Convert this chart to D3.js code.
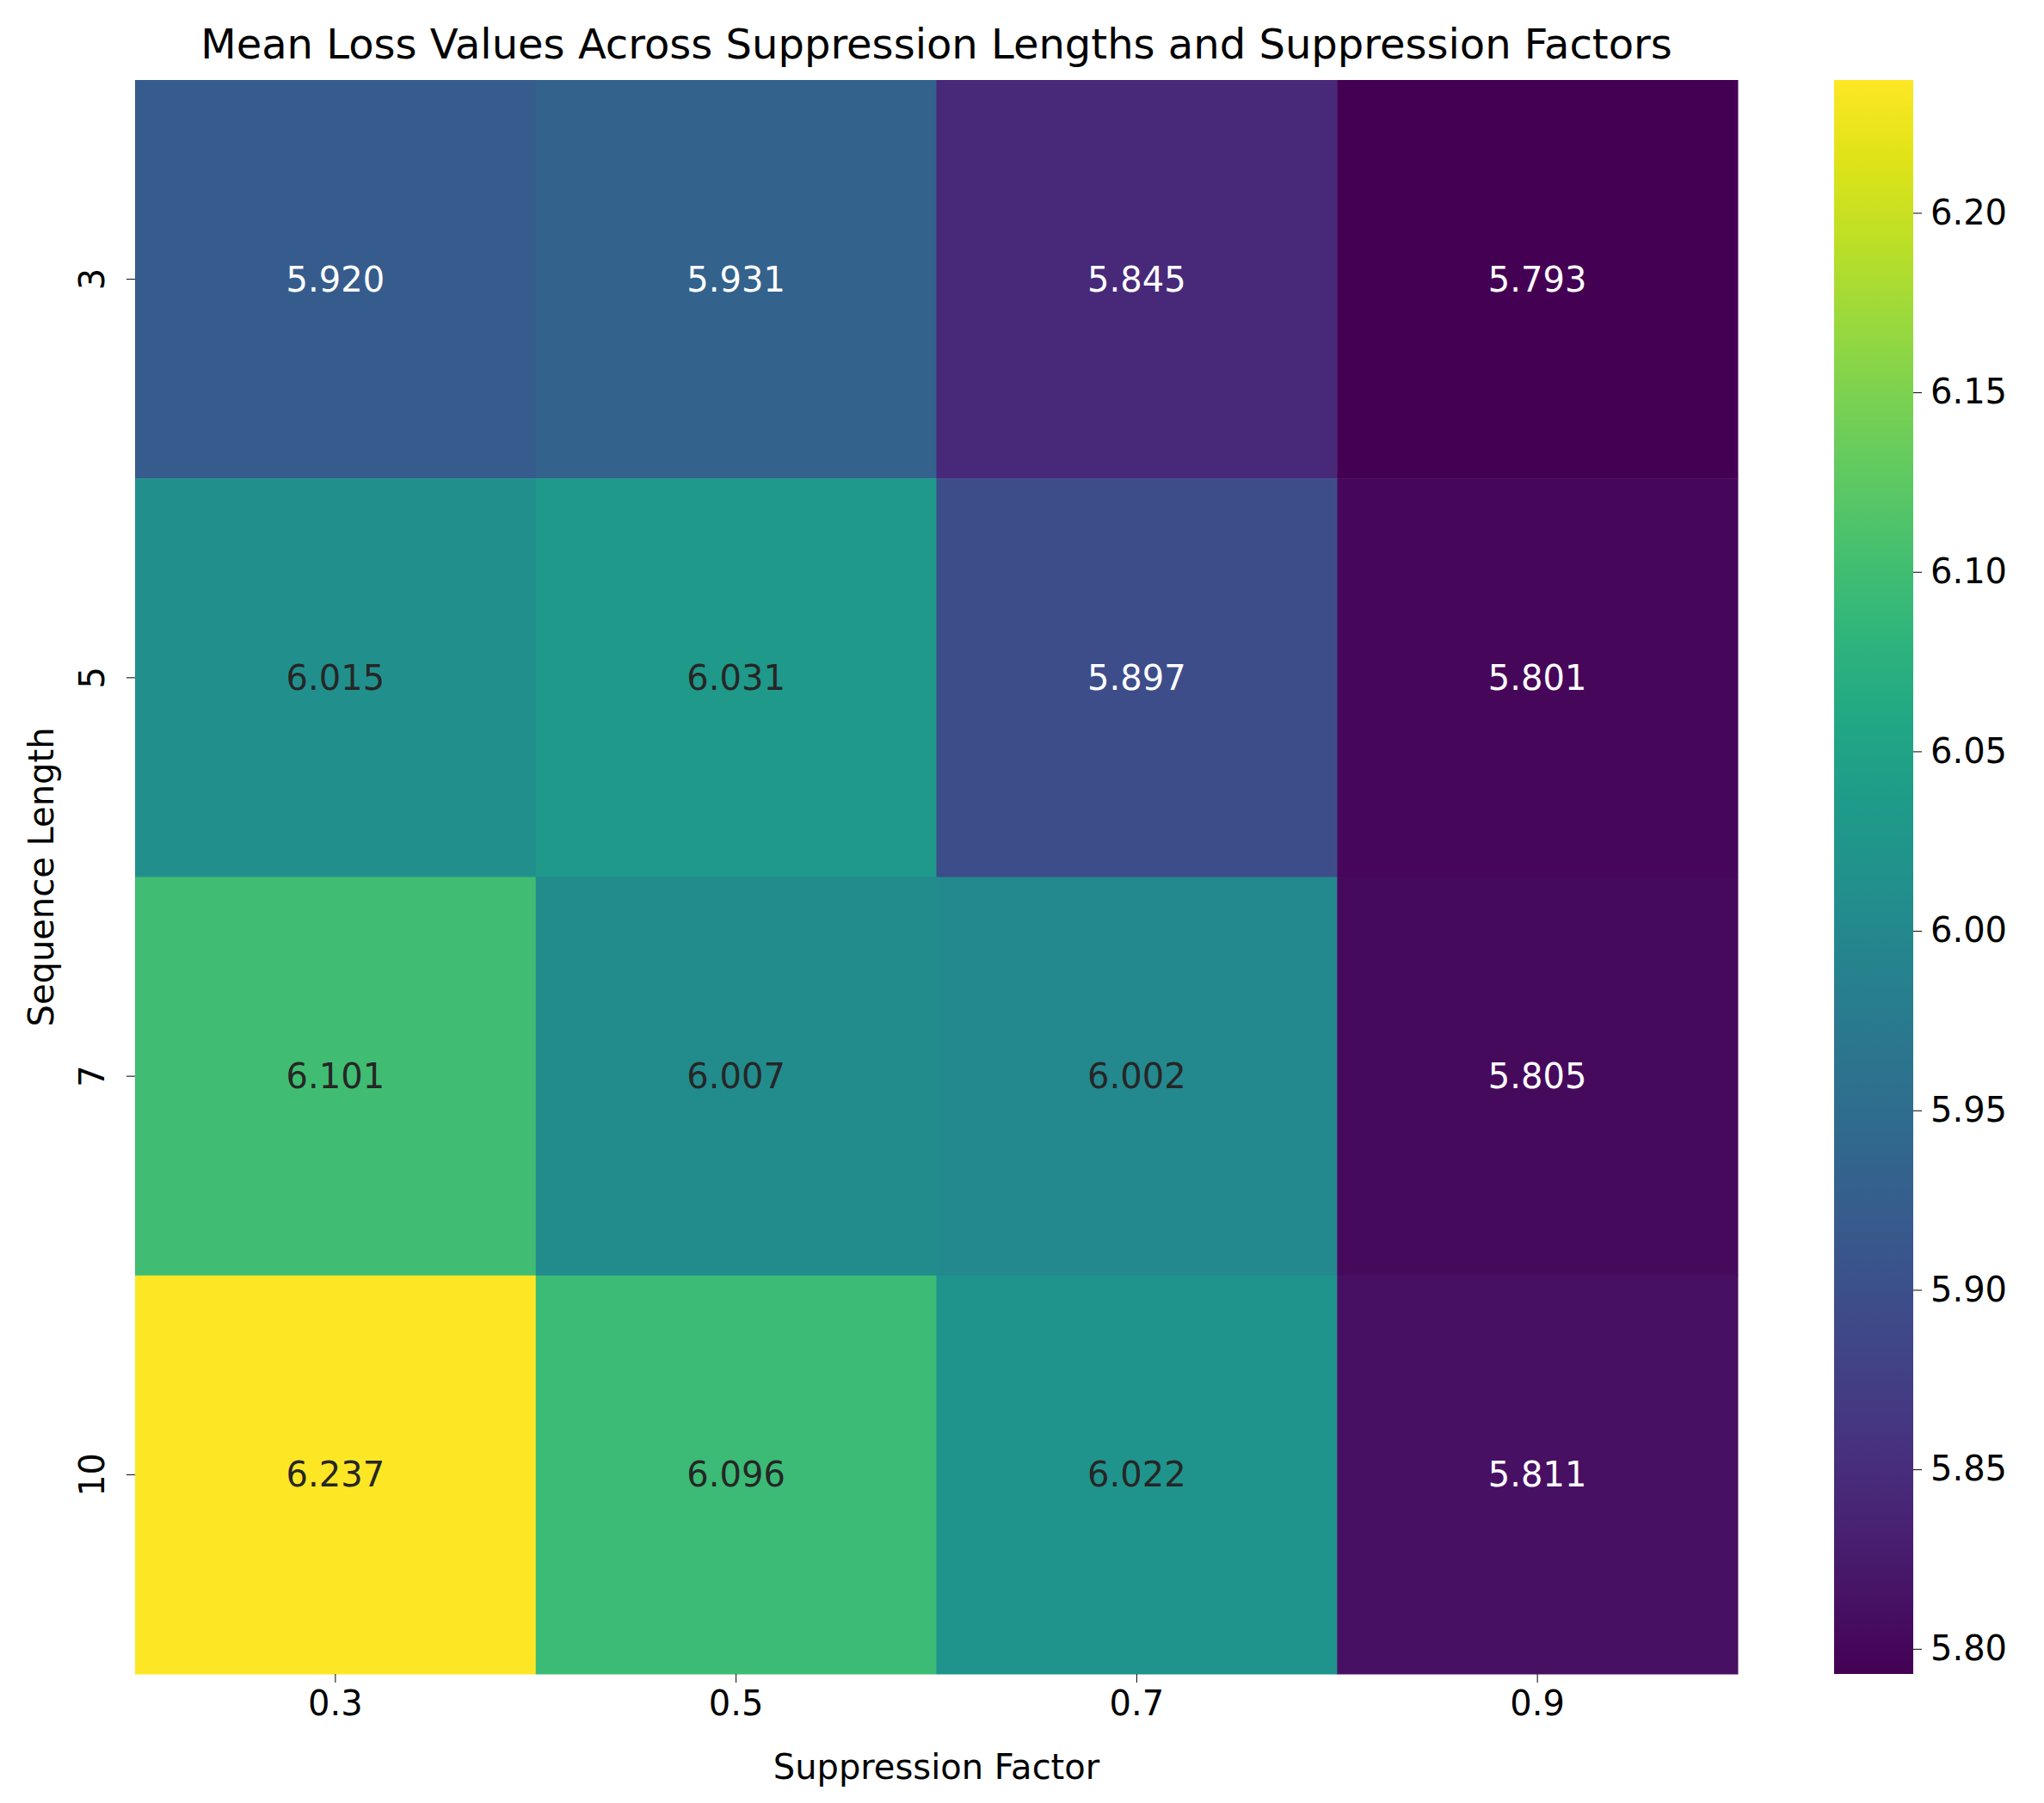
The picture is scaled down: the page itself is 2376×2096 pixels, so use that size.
<!DOCTYPE html>
<html><head><meta charset="utf-8">
<script src="https://cdn.jsdelivr.net/npm/d3@7"></script>
<style>body{margin:0;background:#fff}text{font-family:"DejaVu Sans",sans-serif}</style>
</head><body>
<svg id="chart"></svg>
<script>
var factors = ["0.3", "0.5", "0.7", "0.9"];
var lengths = ["3", "5", "7", "10"];
var values = [
  [5.920, 5.931, 5.845, 5.793],
  [6.015, 6.031, 5.897, 5.801],
  [6.101, 6.007, 6.002, 5.805],
  [6.237, 6.096, 6.022, 5.811]
];
var cbTicks = [5.80, 5.85, 5.90, 5.95, 6.00, 6.05, 6.10, 6.15, 6.20];

var W = 2376, H = 2096;
var pL = 157, pR = 2020, pT = 93, pB = 1946;
var svg = d3.select('#chart').attr('width', W).attr('height', H);

var x = d3.scaleBand().domain(factors).range([pL, pR]);
var y = d3.scaleBand().domain(lengths).range([pT, pB]);
var flat = [];
values.forEach(function(r, i){ r.forEach(function(v, j){ flat.push({len: lengths[i], f: factors[j], v: v}); }); });
var vmin = d3.min(flat, function(d){return d.v}), vmax = d3.max(flat, function(d){return d.v});
var color = d3.scaleSequential(d3.interpolateViridis).domain([vmin, vmax]);

svg.selectAll('rect.cell').data(flat).enter().append('rect').attr('class','cell')
  .attr('x', function(d){return x(d.f)}).attr('y', function(d){return y(d.len)})
  .attr('width', x.bandwidth() + 0.5).attr('height', y.bandwidth() + 0.5)
  .attr('fill', function(d){return color(d.v)});

svg.selectAll('text.ann').data(flat).enter().append('text').attr('class','ann')
  .attr('x', function(d){return x(d.f) + x.bandwidth()/2})
  .attr('y', function(d){return y(d.len) + y.bandwidth()/2})
  .attr('text-anchor','middle').attr('dominant-baseline','central')
  .attr('font-size', 40)
  .attr('fill', function(d){
    var c = d3.rgb(color(d.v));
    var lum = 0.2126*c.r/255 + 0.7152*c.g/255 + 0.0722*c.b/255;
    return lum > 0.408 ? '#262626' : '#fff';
  })
  .text(function(d){return d.v.toFixed(3)});

var xAxis = svg.append('g').attr('transform','translate(0,' + pB + ')')
  .call(d3.axisBottom(x).tickSize(10).tickPadding(10));
xAxis.select('.domain').remove();
xAxis.selectAll('text').attr('font-size', 40).attr('fill','#000');

var yAxis = svg.append('g').attr('transform','translate(' + pL + ',0)')
  .call(d3.axisLeft(y).tickSize(10).tickPadding(10));
yAxis.select('.domain').remove();
yAxis.selectAll('.tick text').attr('font-size', 40).attr('fill','#000')
  .attr('transform','rotate(-90)').attr('x', 0).attr('y', -36)
  .attr('text-anchor','middle').attr('dy', 0);

svg.append('text').attr('x', (pL+pR)/2).attr('y', 2068).attr('text-anchor','middle')
  .attr('font-size', 40).text('Suppression Factor');
svg.append('text').attr('transform','translate(62,' + (pT+pB)/2 + ') rotate(-90)')
  .attr('text-anchor','middle').attr('font-size', 40).text('Sequence Length');
svg.append('text').attr('x', (pL+pR)/2).attr('y', 68).attr('text-anchor','middle')
  .attr('font-size', 48).text('Mean Loss Values Across Suppression Lengths and Suppression Factors');

// colorbar
var cbX = 2132, cbW = 92;
var grad = svg.append('defs').append('linearGradient').attr('id','cb')
  .attr('x1',0).attr('y1',1).attr('x2',0).attr('y2',0);
d3.range(0, 1.0001, 0.05).forEach(function(t){
  grad.append('stop').attr('offset', t).attr('stop-color', d3.interpolateViridis(t));
});
svg.append('rect').attr('x', cbX).attr('y', pT).attr('width', cbW).attr('height', pB-pT).attr('fill','url(#cb)');
var cy = d3.scaleLinear().domain([vmin, vmax]).range([pB, pT]);
var cAxis = svg.append('g').attr('transform','translate(' + (cbX+cbW) + ',0)')
  .call(d3.axisRight(cy).tickValues(cbTicks).tickFormat(d3.format('.2f')).tickSize(10).tickPadding(10));
cAxis.select('.domain').remove();
cAxis.selectAll('text').attr('font-size', 40).attr('fill','#000');
</script>
</body></html>
